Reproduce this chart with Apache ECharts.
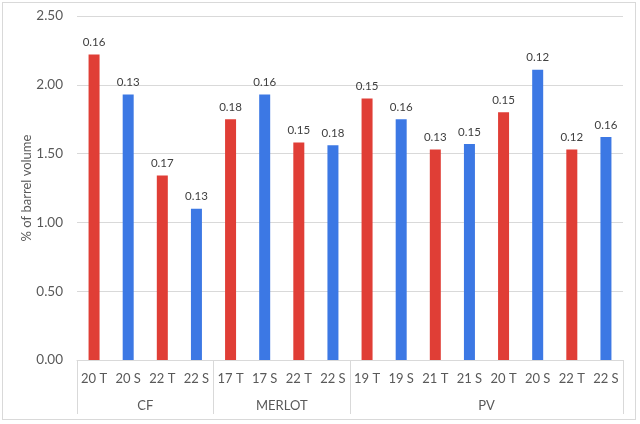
<!DOCTYPE html>
<html><head><meta charset="utf-8">
<script src="https://cdn.jsdelivr.net/npm/echarts@6/dist/echarts.min.js"></script>
<style>
html,body{margin:0;padding:0;background:#fff;}
#frame{position:absolute;left:2px;top:2px;width:634px;height:418px;border:1px solid #d9d9d9;box-sizing:border-box;}
#chart{position:absolute;left:0;top:0;width:640px;height:424px;}
</style></head>
<body>
<div id="frame"></div>
<div id="chart"></div>
<script>
const categories = ['20 T','20 S','22 T','22 S','17 T','17 S','22 T','22 S','19 T','19 S','21 T','21 S','20 T','20 S','22 T','22 S'];
const values = [2.22,1.93,1.34,1.10,1.75,1.93,1.58,1.56,1.90,1.75,1.53,1.57,1.80,2.11,1.53,1.62];
const barLabels = ['0.16','0.13','0.17','0.13','0.18','0.16','0.15','0.18','0.15','0.16','0.13','0.15','0.15','0.12','0.12','0.16'];
const groups = ['CF','MERLOT','PV'];
const groupSizes = [4,4,8];
const yTicks = [0,0.5,1,1.5,2,2.5];

const boundaries = [0];
const centers = [];
groupSizes.forEach((n,i)=>{const s=boundaries[i];boundaries.push(s+n);centers.push(s+n/2);});

const chart = echarts.init(document.getElementById('chart'), null, {renderer:'canvas'});
const font = 'Lato, "Open Sans", sans-serif';
chart.setOption({
  animation:false,
  grid:{left:77,right:17,top:16,bottom:64},
  xAxis:[{
    type:'category',
    data:categories,
    position:'bottom',
    axisLine:{lineStyle:{color:'#d9d9d9'}},
    axisTick:{show:false},
    axisLabel:{color:'#595959',fontSize:13,fontFamily:font,margin:12,interval:0}
  },{
    type:'value',
    min:0,max:boundaries[boundaries.length-1],
    position:'bottom',
    offset:0,
    splitLine:{show:false},
    axisLine:{show:false},
    axisTick:{show:true,length:54,customValues:boundaries,lineStyle:{color:'#d9d9d9'}},
    axisLabel:{customValues:centers,color:'#595959',fontSize:13,fontFamily:font,margin:39,
      formatter:function(v){const i=centers.indexOf(v);return i>=0?groups[i]:'';}}
  }],
  yAxis:{
    type:'value',min:yTicks[0],max:yTicks[yTicks.length-1],interval:0.5,
    name:'% of barrel volume',nameLocation:'middle',nameGap:44,nameMoveOverlap:false,
    nameTextStyle:{color:'#595959',fontSize:13,fontFamily:font},
    axisLine:{show:false},axisTick:{show:false},
    axisLabel:{color:'#595959',fontSize:13.5,fontFamily:font,margin:14,formatter:v=>v.toFixed(2)},
    splitLine:{lineStyle:{color:'#d9d9d9'}}
  },
  series:[{
    type:'bar',
    xAxisIndex:0,
    data:values,
    barWidth:11,
    itemStyle:{color:function(p){return categories[p.dataIndex].endsWith('T')?'#e03e36':'#3c78e4';}},
    label:{show:true,position:'top',distance:6,color:'#404040',fontSize:11.5,fontFamily:font,
      formatter:function(p){return barLabels[p.dataIndex];}}
  }]
});
</script>
</body></html>
